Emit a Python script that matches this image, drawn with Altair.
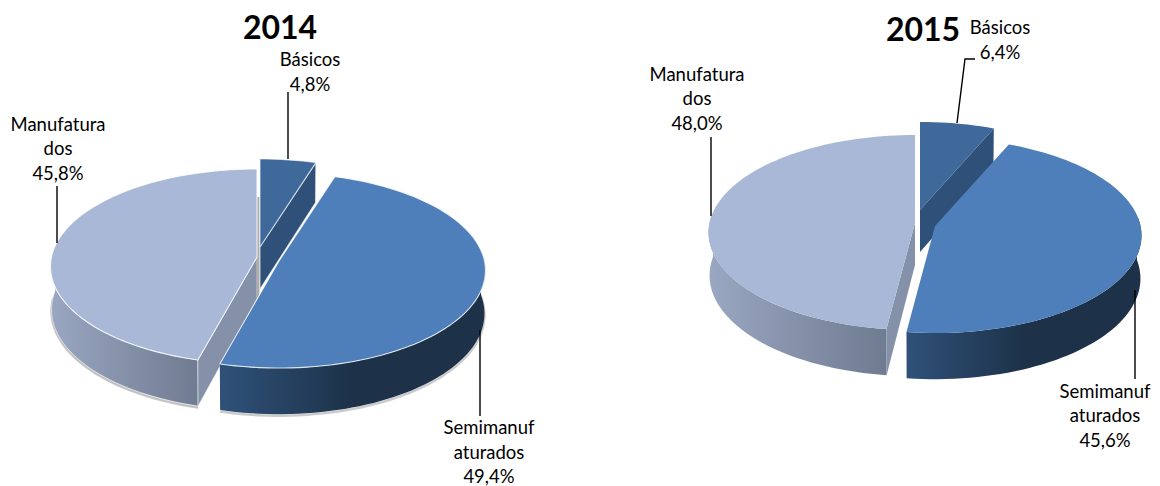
import math
import altair as alt
import pandas as pd

categories = ["Básicos", "Semimanufaturados", "Manufaturados"]
shares_2014 = [4.8, 49.4, 45.8]
shares_2015 = [6.4, 45.6, 48.0]
label_2014 = ["4,8%", "49,4%", "45,8%"]
label_2015 = ["6,4%", "45,6%", "48,0%"]

RX, RY, K = 205.5, 96.6, 0.0976
TOP = {"b": "#3f699b", "s": "#4f7fba", "m": "#a8b8d6"}
EDGE = {"b": "#2f5078", "m": "#8591a9"}


def top(a, t):
    r = math.radians(t)
    w = 1 + K * math.cos(r)
    return a[0] + RX * math.sin(r) / w, a[1] - RY * math.cos(r) / w


def low(a, t):
    r = math.radians(t)
    w = 1 + K * math.cos(r)
    return a[0] + 0.995 * RX * math.sin(r) / w, a[1] + 42.7 - 1.032 * RY * math.cos(r) / w


def sweep(t0, t1):
    n = max(2, int(abs(t1 - t0) / 2))
    return [t0 + (t1 - t0) * i / n for i in range(n + 1)]


def frame(pts):
    return pd.DataFrame({"x": [p[0] for p in pts], "y": [p[1] for p in pts], "i": range(len(pts))})


X = alt.X("x:Q", scale=alt.Scale(domain=[8, 1152], nice=False, zero=False), axis=None)
Y = alt.Y("y:Q", scale=alt.Scale(domain=[486, 8], nice=False, zero=False), axis=None)


def poly(pts, fill, stroke="transparent", sw=0.0, opacity=1.0):
    closed = list(pts) + [pts[0]]
    return alt.Chart(frame(closed)).mark_line(
        fill=fill, stroke=stroke, strokeWidth=sw, strokeOpacity=opacity, strokeJoin="round"
    ).encode(x=X, y=Y, order=alt.Order("i:Q"))


def path(pts, color="#000000", sw=1.5, opacity=1.0):
    return alt.Chart(frame(pts)).mark_line(
        stroke=color, strokeWidth=sw, opacity=opacity
    ).encode(x=X, y=Y, order=alt.Order("i:Q"))


def gradient(c0, mid, c1):
    return alt.Gradient(
        gradient="linear", x1=0, x2=1, y1=0, y2=0,
        stops=[alt.GradientStop(color=c0, offset=0),
               alt.GradientStop(color=c1, offset=mid),
               alt.GradientStop(color=c1, offset=1)],
    )


def pie(shares, ab, as_, am, outline):
    t1 = shares[0] * 3.6
    t2 = t1 + shares[1] * 3.6
    line = "#ffffff" if outline else "transparent"
    sw = 1.1 if outline else 0
    out = []
    if outline:
        out.append(path([(low(am, t)[0], low(am, t)[1] + 1.5) for t in sweep(t2, 272)], "#a9a9a9", 2.5, 0.7))
        out.append(path([(low(as_, t)[0], low(as_, t)[1] + 1.5) for t in sweep(80, t2)], "#b5b5b5", 2.5, 0.7))
    # Básicos inner wall
    out.append(poly([top(ab, t1), ab, (ab[0], ab[1] + 42), low(ab, t1)], EDGE["b"], line, sw, 0.6))
    # Manufaturados
    out.append(poly([top(am, t) for t in sweep(t2, 275)] + [low(am, t) for t in sweep(275, t2)],
                    gradient("#9aa7c2", 1, "#6f7b90"), line if outline else "transparent", 0.8 if outline else 0, 0.6))
    out.append(poly([am, top(am, t2), low(am, t2), (am[0], am[1] + 42)], EDGE["m"], line, 0.8 if outline else 0, 0.6))
    if outline:
        out.append(path([(am[0] + 1, am[1] - 60), (am[0] + 1, am[1] + 45)], "#adadad", 3))
    out.append(poly([am] + [top(am, t) for t in sweep(t2, 360)], TOP["m"], line, sw, 0.8))
    # Básicos top
    out.append(poly([ab] + [top(ab, t) for t in sweep(0, t1)], TOP["b"], line, sw, 0.6))
    # Semimanufaturados
    out.append(poly([top(as_, t) for t in sweep(85, t2)] + [low(as_, t) for t in sweep(t2, 85)],
                    gradient("#2f5179", 0.5, "#1d3249"), "transparent", 0))
    out.append(poly([as_] + [top(as_, t) for t in sweep(t1, t2)], TOP["s"], line, sw, 0.8))
    return out


layers = []
layers += pie(shares_2014, (260, 247), (279, 261), (257, 257), True)
layers += pie(shares_2015, (920, 210), (935, 226), (915, 223), False)

leaders = [
    [(288, 92), (288, 159)],
    [(57, 186), (57, 243)],
    [(480, 330), (480, 416)],
    [(975, 59), (965, 59), (957, 123)],
    [(711, 137), (711, 216)],
    [(1135, 290), (1135, 379)],
]
layers += [path(p, "#000000", 1.4) for p in leaders]

texts = pd.DataFrame([
    (310, 60, categories[0]), (310, 85, label_2014[0]),
    (58, 125, "Manufatura"), (58, 149, "dos"), (58, 174, label_2014[2]),
    (489, 428, "Semimanuf"), (489, 453, "aturados"), (489, 477, label_2014[1]),
    (1000, 28, categories[0]), (1000, 53, label_2015[0]),
    (697, 75, "Manufatura"), (697, 99, "dos"), (697, 124, label_2015[2]),
    (1105, 392, "Semimanuf"), (1105, 416, "aturados"), (1105, 441, label_2015[1]),
], columns=["x", "y", "t"])
layers.append(alt.Chart(texts).mark_text(font="Lato", fontSize=18.5, color="#000000", baseline="middle", align="center")
              .encode(x=X, y=Y, text="t:N"))

titles = pd.DataFrame({"x": [280, 923], "y": [29, 31], "t": ["2014", "2015"]})
layers.append(alt.Chart(titles).mark_text(font="Lato", fontSize=32, fontWeight="bold", color="#000000", baseline="middle", align="center")
              .encode(x=X, y=Y, text="t:N"))

chart = alt.layer(*layers).properties(
    width=1144, height=478, padding=0, autosize=alt.AutoSizeParams(type="none"), background="white"
).configure_view(stroke=None)

chart.save("out.html", embed_options={"renderer": "svg", "actions": False})
